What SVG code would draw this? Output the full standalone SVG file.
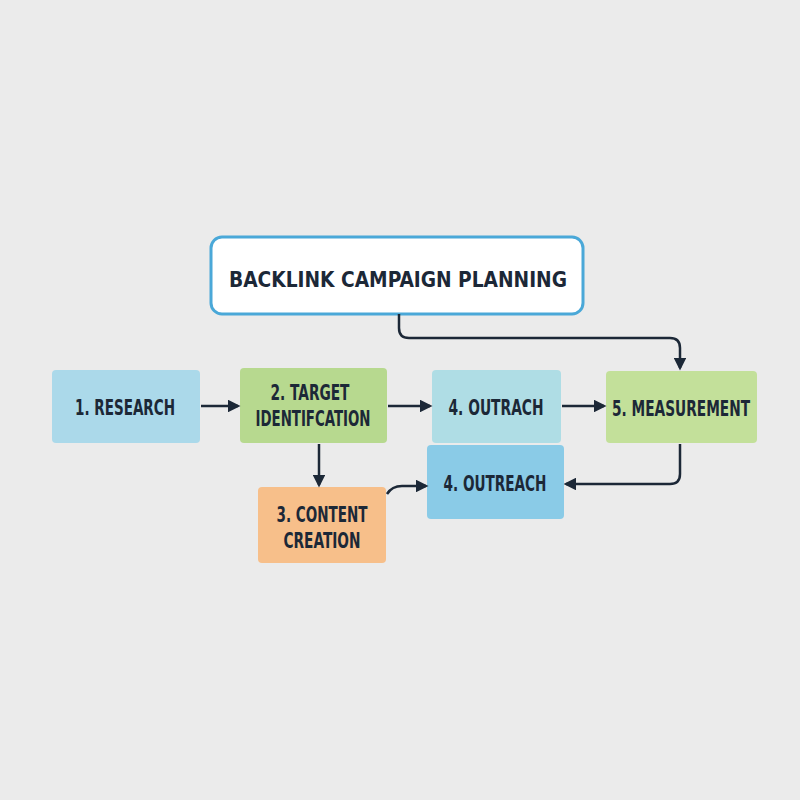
<svg xmlns="http://www.w3.org/2000/svg" width="800" height="800" viewBox="0 0 800 800">
<style>
text{font-family:"DejaVu Sans Condensed","Liberation Sans",sans-serif;font-weight:bold;fill:#1c2837;text-anchor:middle;font-size:22px}
.c{fill:none;stroke:#1c2837;stroke-width:2.5}
</style>
<defs><marker id="a" viewBox="0 0 10 10" refX="8" refY="5" markerWidth="5" markerHeight="5" orient="auto"><path d="M0,0L10,5L0,10z" fill="#1c2837"/></marker></defs>
<rect width="800" height="800" fill="#ebebeb"/>
<g id="title"><rect x="211" y="237" width="372" height="77" rx="11" fill="#fff" stroke="#4aa8d8" stroke-width="3"/><text x="398" y="287" font-size="31" textLength="338" lengthAdjust="spacingAndGlyphs">BACKLINK CAMPAIGN PLANNING</text></g>
<g id="research"><rect x="52" y="370" width="148" height="73" rx="4" fill="#abd9ea"/><text x="125" y="415" textLength="100" lengthAdjust="spacingAndGlyphs">1. RESEARCH</text></g>
<g id="target"><rect x="240" y="368" width="147" height="75" rx="4" fill="#b7d98f"/><text x="310" y="400" textLength="79" lengthAdjust="spacingAndGlyphs">2. TARGET</text><text x="313" y="426" textLength="115" lengthAdjust="spacingAndGlyphs">IDENTIFCATION</text></g>
<g id="outrach"><rect x="432" y="370" width="129" height="73" rx="4" fill="#afdde5"/><text x="496" y="415" textLength="95" lengthAdjust="spacingAndGlyphs">4. OUTRACH</text></g>
<g id="measurement"><rect x="606" y="371" width="151" height="72" rx="4" fill="#c3e09a"/><text x="681" y="416" textLength="138" lengthAdjust="spacingAndGlyphs">5. MEASUREMENT</text></g>
<g id="outreach"><rect x="427" y="445" width="137" height="74" rx="4" fill="#8acbe7"/><text x="495" y="491" textLength="103" lengthAdjust="spacingAndGlyphs">4. OUTREACH</text></g>
<g id="content"><rect x="258" y="487" width="128" height="76" rx="4" fill="#f7bf8a"/><text x="322" y="522" textLength="91" lengthAdjust="spacingAndGlyphs">3. CONTENT</text><text x="322" y="548" textLength="77" lengthAdjust="spacingAndGlyphs">CREATION</text></g>
<g id="connectors">
<path class="c" marker-end="url(#a)" d="M201,406H238"/>
<path class="c" marker-end="url(#a)" d="M388,406H430"/>
<path class="c" marker-end="url(#a)" d="M562,406H604"/>
<path class="c" marker-end="url(#a)" d="M319,444V485"/>
<path class="c" marker-end="url(#a)" d="M399,314V328Q399,338 409,338H670Q680,338 680,348V368"/>
<path class="c" marker-end="url(#a)" d="M680,444V474Q680,484 670,484H566"/>
<path class="c" marker-end="url(#a)" d="M387,494Q392,486 402,486H426"/>
</g>
</svg>
